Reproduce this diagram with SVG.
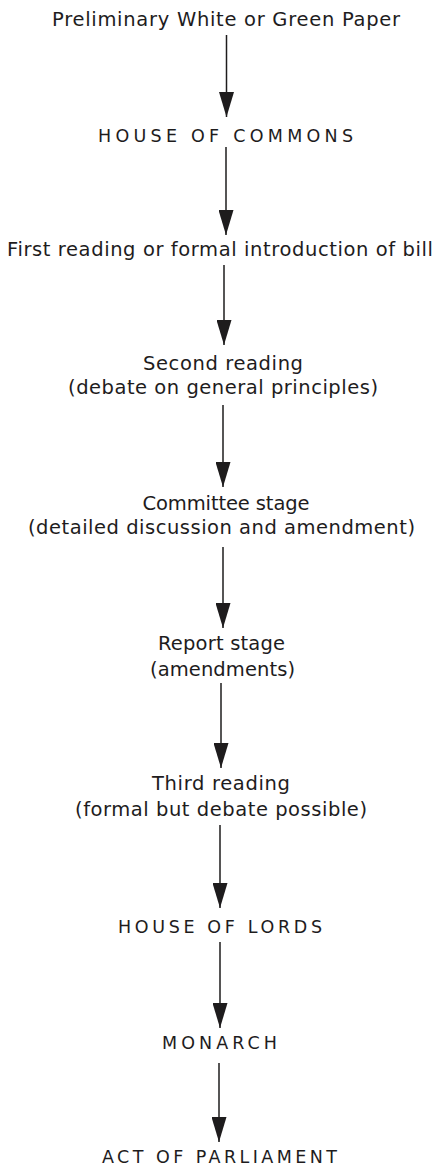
<svg xmlns="http://www.w3.org/2000/svg" width="445" height="1168" viewBox="0 0 445 1168">
<style>
text{font-family:"DejaVu Sans","Liberation Sans",sans-serif;font-size:19.5px;fill:#1e1c1d;text-anchor:middle}
.caps{font-size:17.5px}
.conn line{stroke:#1e1c1d;stroke-width:1.5;fill:none}
</style>
<defs>
<marker id="ah" viewBox="0 0 25 15" refX="25" refY="7.5" markerWidth="25" markerHeight="15" markerUnits="userSpaceOnUse" orient="auto">
<path d="M0,0 L25,7.5 L0,15 z" fill="#1e1c1d"/>
</marker>
</defs>
<rect width="445" height="1168" fill="#fff"/>
<g class="conn" id="connectors">
<line x1="226.5" y1="35" x2="226.5" y2="117" marker-end="url(#ah)"/>
<line x1="226" y1="147" x2="226" y2="235" marker-end="url(#ah)"/>
<line x1="224" y1="265" x2="224" y2="345" marker-end="url(#ah)"/>
<line x1="223" y1="405" x2="223" y2="487" marker-end="url(#ah)"/>
<line x1="223" y1="547" x2="223" y2="628" marker-end="url(#ah)"/>
<line x1="221" y1="683" x2="221" y2="768" marker-end="url(#ah)"/>
<line x1="220" y1="825" x2="220" y2="908" marker-end="url(#ah)"/>
<line x1="220" y1="942" x2="220" y2="1028" marker-end="url(#ah)"/>
<line x1="219" y1="1063" x2="219" y2="1142" marker-end="url(#ah)"/>
</g>
<g id="paper"><text x="226" y="26" textLength="348" lengthAdjust="spacing">Preliminary White or Green Paper</text></g>
<g id="commons"><text class="caps" x="225.5" y="142" textLength="255" lengthAdjust="spacing">HOUSE OF COMMONS</text></g>
<g id="first"><text x="220" y="256" textLength="426" lengthAdjust="spacing">First reading or formal introduction of bill</text></g>
<g id="second"><text x="223" y="370" textLength="160" lengthAdjust="spacing">Second reading</text><text x="223" y="394" textLength="310" lengthAdjust="spacing">(debate on general principles)</text></g>
<g id="committee"><text x="226" y="510" textLength="167" lengthAdjust="spacing">Committee stage</text><text x="221.5" y="534" textLength="387" lengthAdjust="spacing">(detailed discussion and amendment)</text></g>
<g id="report"><text x="221.5" y="650" textLength="127" lengthAdjust="spacing">Report stage</text><text x="222.5" y="676" textLength="145" lengthAdjust="spacing">(amendments)</text></g>
<g id="third"><text x="221" y="790" textLength="138" lengthAdjust="spacing">Third reading</text><text x="221" y="816" textLength="292" lengthAdjust="spacing">(formal but debate possible)</text></g>
<g id="lords"><text class="caps" x="220" y="933" textLength="204" lengthAdjust="spacing">HOUSE OF LORDS</text></g>
<g id="monarch"><text class="caps" x="219.5" y="1049" textLength="115" lengthAdjust="spacing">MONARCH</text></g>
<g id="act"><text class="caps" x="219.5" y="1163" textLength="235" lengthAdjust="spacing">ACT OF PARLIAMENT</text></g>
</svg>
